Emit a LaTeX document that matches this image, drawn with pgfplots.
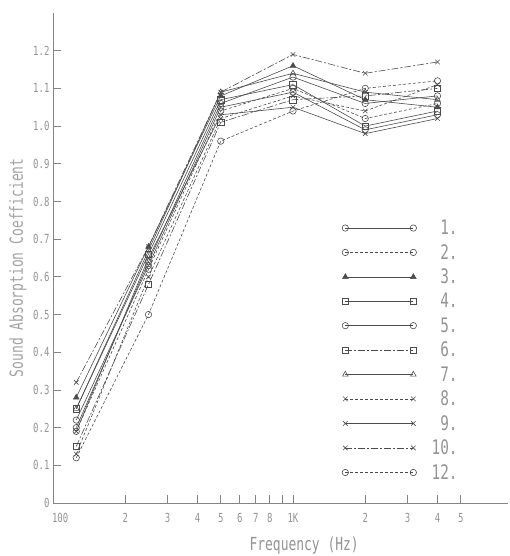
\documentclass[border=0pt]{standalone}
\usepackage{pgfplots}
\pgfplotsset{compat=1.18}
\usepackage{fontspec}
\setmainfont{DejaVu Sans Mono}[FakeStretch=0.72]

\definecolor{ink}{gray}{0.30}
\definecolor{txt}{gray}{0.58}
\definecolor{axl}{gray}{0.52}

\begin{document}
\begin{tikzpicture}
\useasboundingbox (-53pt,-53pt) rectangle (456pt,503pt);
\begin{axis}[
  scale only axis, width=455pt, height=490pt,
  xmode=log, log basis x=10,
  xmin=100, xmax=7870, ymin=0, ymax=1.3,
  axis lines=left, axis line style={-, axl, line width=0.9pt},
  tick align=inside, major tick length=8pt,
  tick style={axl, line width=0.8pt},
  minor xtick={}, minor ytick={},
  xtick={100,200,300,400,500,600,700,800,900,1000,2000,3000,4000,5000},
  xticklabels={\makebox[0pt][l]{\kern-1pt 100},2,3,4,5,6,7,8,,1K,2,3,4,5},
  ytick={0,0.1,0.2,0.3,0.4,0.5,0.6,0.7,0.8,0.9,1.0,1.1,1.2},
  yticklabels={0,0.1,0.2,0.3,0.4,0.5,0.6,0.7,0.8,0.9,1.0,1.1,1.2},
  ticklabel style={font=\fontsize{12.5}{12.5}\selectfont, text=txt},
  xticklabel style={yshift=-7pt},
  xlabel={Frequency (Hz)},
  ylabel={Sound Absorption Coefficient},
  every axis x label/.style={at={(axis description cs:0.552,-0.086)}, anchor=center,
    font=\fontsize{18}{18}\selectfont, text=txt},
  every axis y label/.style={at={(axis description cs:-0.077,0.48)}, anchor=center,
    rotate=90, font=\fontsize{18}{18}\selectfont, text=txt!85},
  every axis plot/.append style={ink, line width=0.6pt, mark size=3.2pt,
    mark options={solid, line width=0.6pt}},
  legend image code/.code={%
    \draw[#1] plot coordinates {(0pt,0pt) (68pt,0pt)};
    \path (86pt,0pt);},
  legend cell align=right,
  legend style={draw=none, fill=none, inner sep=0pt,
    at={(axis description cs:0.635,0.578)}, anchor=north west,
    row sep=8.2pt,
    font=\fontsize{20}{20}\selectfont, text=txt,
    nodes={inner sep=0pt}},
]
% 1
\addplot[mark=o] coordinates {(125,0.20) (250,0.64) (500,1.06) (1000,1.13) (2000,1.06) (4000,1.08)};
% 2
\addplot[mark=o, dash pattern=on 3pt off 2pt] coordinates {(125,0.19) (250,0.62) (500,1.04) (1000,1.10) (2000,1.02) (4000,1.06)};
% 3
\addplot[mark=triangle*] coordinates {(125,0.28) (250,0.68) (500,1.08) (1000,1.16) (2000,1.07) (4000,1.05)};
% 4
\addplot[mark=square] coordinates {(125,0.25) (250,0.66) (500,1.07) (1000,1.11) (2000,1.00) (4000,1.04)};
% 5
\addplot[mark=o] coordinates {(125,0.22) (250,0.63) (500,1.05) (1000,1.09) (2000,0.99) (4000,1.03)};
% 6
\addplot[mark=square, dash pattern=on 7pt off 2pt on 2pt off 2pt] coordinates {(125,0.15) (250,0.58) (500,1.01) (1000,1.07) (2000,1.08) (4000,1.10)};
% 7
\addplot[mark=triangle] coordinates {(125,0.25) (250,0.67) (500,1.09) (1000,1.14) (2000,1.09) (4000,1.07)};
% 8
\addplot[mark=x, dash pattern=on 3pt off 2pt] coordinates {(125,0.13) (250,0.60) (500,1.02) (1000,1.08) (2000,1.04) (4000,1.11)};
% 9
\addplot[mark=x] coordinates {(125,0.19) (250,0.65) (500,1.03) (1000,1.05) (2000,0.98) (4000,1.02)};
% 10
\addplot[mark=x, dash pattern=on 7pt off 2pt on 2pt off 2pt] coordinates {(125,0.32) (250,0.68) (500,1.09) (1000,1.19) (2000,1.14) (4000,1.17)};
% 12
\addplot[mark=o, dash pattern=on 3pt off 2pt] coordinates {(125,0.12) (250,0.50) (500,0.96) (1000,1.04) (2000,1.10) (4000,1.12)};
\legend{1.,2.,3.,4.,5.,6.,7.,8.,9.,10.,12.}
\end{axis}
\end{tikzpicture}
\end{document}
